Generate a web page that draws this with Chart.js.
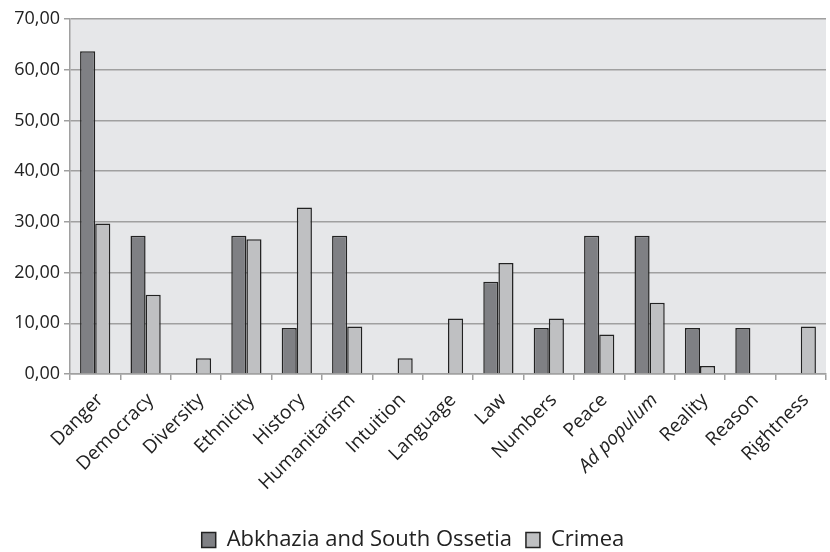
<!DOCTYPE html>
<html lang="en">
<head>
    <meta charset="UTF-8">
    <title>Argument types</title>
    <script src="https://cdn.jsdelivr.net/npm/chart.js"></script>
    <style>
        body { margin: 0; background: #fff; }
    </style>
</head>
<body>
    <canvas id="myChart" width="830" height="552"></canvas>
<script>
    var categorias = ['Danger', 'Democracy', 'Diversity', 'Ethnicity', 'History', 'Humanitarism',
        'Intuition', 'Language', 'Law', 'Numbers', 'Peace', 'Ad populum', 'Reality', 'Reason', 'Rightness'];
    var abkhazia = [63.64, 27.27, 0, 27.27, 9.09, 27.27, 0, 0, 18.18, 9.09, 27.27, 27.27, 9.09, 9.09, 0];
    var crimea = [29.69, 15.63, 3.13, 26.56, 32.81, 9.38, 3.13, 10.94, 21.88, 10.94, 7.81, 14.06, 1.56, 0, 9.38];
    var ticksY = [0, 10, 20, 30, 40, 50, 60, 70];

    // fundo cinza só na área do gráfico
    const fundo = {
        id: 'fundo',
        beforeDraw(chart) {
            const a = chart.chartArea;
            chart.ctx.save();
            chart.ctx.fillStyle = '#e6e7e9';
            chart.ctx.fillRect(a.left, a.top, a.right - a.left, a.bottom - a.top);
            chart.ctx.restore();
        }
    };

    let dados = {
        labels: categorias,
        datasets: [{
            label: 'Abkhazia and South Ossetia',
            data: abkhazia,
            backgroundColor: '#7f8084',
            borderColor: '#222222',
            borderWidth: 1.5,
            borderSkipped: 'start'
        }, {
            label: 'Crimea',
            data: crimea,
            backgroundColor: '#bfc0c2',
            borderColor: '#222222',
            borderWidth: 1.5,
            borderSkipped: 'start'
        }]
    };

    const config = {
        type: 'bar',
        data: dados,
        plugins: [fundo],
        options: {
            responsive: false,
            animation: false,
            devicePixelRatio: 1,
            layout: { padding: { top: 19, right: 4, left: 0, bottom: -9 } },
            datasets: { bar: { categoryPercentage: 0.6, barPercentage: 1.0 } },
            plugins: {
                tooltip: { enabled: false },
                legend: {
                    position: 'bottom',
                    labels: {
                        color: '#222',
                        font: { family: 'Open Sans', size: 22 },
                        boxWidth: 14,
                        boxHeight: 15,
                        padding: 14
                    }
                }
            },
            scales: {
                x: {
                    grid: { drawOnChartArea: false, drawTicks: true, tickLength: 6, color: '#a0a0a0', lineWidth: 1.5 },
                    border: { color: '#a0a0a0', width: 1.5 },
                    ticks: {
                        color: '#222',
                        minRotation: 45,
                        maxRotation: 45,
                        autoSkip: false,
                        padding: 9,
                        labelOffset: 5,
                        font: function (ctx) {
                            return { family: 'Open Sans', size: 19, style: ctx.index === 11 ? 'italic' : 'normal' };
                        }
                    },
                    afterFit: function (s) {
                        s.height = 141;
                        s.paddingLeft = 0;
                        s.paddingRight = 0;
                    }
                },
                y: {
                    min: 0,
                    max: 70,
                    afterBuildTicks: function (s) { s.ticks = ticksY.map(v => ({ value: v })); },
                    grid: { color: '#a0a0a0', lineWidth: 1.5, tickLength: 6 },
                    border: { color: '#a0a0a0', width: 1.5 },
                    ticks: {
                        color: '#222',
                        padding: 4,
                        font: { family: 'Open Sans', size: 18 },
                        callback: function (v) { return v.toFixed(2).replace('.', ','); }
                    },
                    afterFit: function (s) { s.width = 70; }
                }
            }
        }
    };

    let myChart = new Chart(document.getElementById('myChart'), config);
</script>
</body>
</html>
